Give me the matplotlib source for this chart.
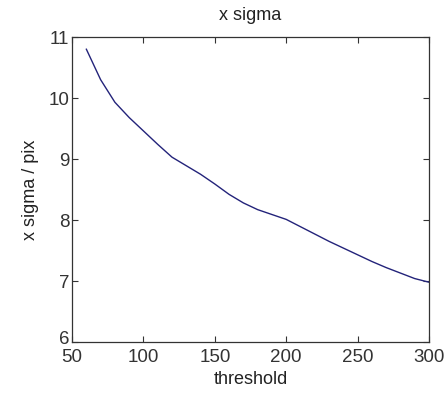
import matplotlib
matplotlib.use("Agg")
import matplotlib.pyplot as plt
import matplotlib.transforms as mtransforms

plt.rcParams["font.family"] = ["Liberation Sans", "DejaVu Sans"]

threshold = [60, 70, 80, 90, 100, 110, 120, 130, 140, 150, 160, 170, 180,
             190, 200, 210, 220, 230, 240, 250, 260, 270, 280, 290, 300]
x_sigma = [10.80, 10.30, 9.93, 9.68, 9.46, 9.24, 9.03, 8.89, 8.75, 8.59,
           8.42, 8.28, 8.17, 8.09, 8.01, 7.89, 7.77, 7.65, 7.54, 7.43,
           7.32, 7.22, 7.13, 7.04, 6.98]

fig = plt.figure(figsize=(4.45, 3.94), dpi=100)
ax = fig.add_axes([0.162, 0.132, 0.802, 0.774])
ax.plot(threshold, x_sigma, color="#23237a", linewidth=1.0)

ax.set_xlim(50, 300)
ax.set_ylim(6, 11)
ax.set_xticks([50, 100, 150, 200, 250, 300])
ax.set_yticks([6, 7, 8, 9, 10, 11])
ax.tick_params(direction="in", top=True, right=True, length=4, width=0.8,
               labelsize=13.5, colors="#333333")
ax.tick_params(axis="x", pad=5)
ax.tick_params(axis="y", pad=2)
for s in ax.spines.values():
    s.set_color("#333333")
    s.set_linewidth(0.9)

# lift the bottom y label a little so it clears the "50"
fig.canvas.draw()
lab6 = ax.get_yticklabels()[0]
lab6.set_transform(lab6.get_transform() + mtransforms.ScaledTranslation(0, 3 / 72, fig.dpi_scale_trans))

ax.set_xlabel("threshold", fontsize=13, labelpad=4, color="#222222")
ax.set_ylabel("x sigma / pix", fontsize=13, labelpad=7, color="#222222")
ax.set_title("x sigma", fontsize=13, pad=12, color="#222222")

fig.savefig("out.png", dpi=100)
